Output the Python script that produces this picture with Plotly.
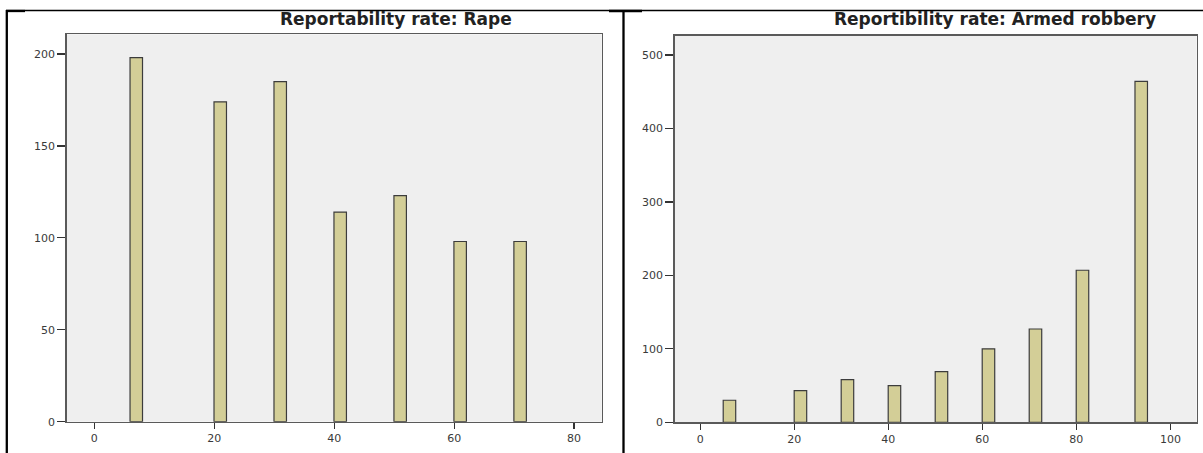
import plotly.graph_objects as go

W, H = 1203, 453

# ---- data ----
rape_rate = [7, 21, 31, 41, 51, 61, 71]
rape_count = [198, 174, 185, 114, 123, 98, 98]

robbery_rate = [6.2, 21.3, 31.3, 41.3, 51.3, 61.3, 71.3, 81.3, 93.8]
robbery_count = [30, 43, 58, 50, 69, 100, 127, 207, 464]

rape_xticks = [0, 20, 40, 60, 80]
rape_yticks = [0, 50, 100, 150, 200]
robbery_xticks = [0, 20, 40, 60, 80, 100]
robbery_yticks = [0, 100, 200, 300, 400, 500]

title_left = "Reportability rate: Rape"
title_right = "Reportibility rate: Armed robbery"

BAR_FILL = "#d3ce97"
BAR_LINE = "#3c3c3c"
PLOT_BG = "#efefef"
FRAME = "#5a5a5a"
TICK_FONT = "DejaVu Sans, Liberation Sans, sans-serif"
TITLE_FONT = "DejaVu Sans, Liberation Sans, sans-serif"


def px(x):
    return x / W


def py(y):
    return 1 - y / H


fig = go.Figure()
fig.add_trace(go.Bar(x=rape_rate, y=rape_count, width=2.08, xaxis="x", yaxis="y",
                     marker=dict(color=BAR_FILL, line=dict(color=BAR_LINE, width=1.2)),
                     showlegend=False, hoverinfo="skip"))
fig.add_trace(go.Bar(x=robbery_rate, y=robbery_count, width=2.66, xaxis="x2", yaxis="y2",
                     marker=dict(color=BAR_FILL, line=dict(color=BAR_LINE, width=1.2)),
                     showlegend=False, hoverinfo="skip"))

axis_common = dict(showgrid=False, zeroline=False, showline=True, mirror=True,
                   linecolor=FRAME, linewidth=1.5, ticks="outside", tickcolor="#333333",
                   tickwidth=1.3, tickfont=dict(family=TICK_FONT, size=11, color="#3a3a3a"),
                   fixedrange=True, automargin=False)

fig.update_layout(
    width=W, height=H, autosize=False,
    margin=dict(l=0, r=0, t=0, b=0, pad=0),
    paper_bgcolor="white", plot_bgcolor=PLOT_BG,
    bargap=0,
    xaxis=dict(domain=[px(66.7), px(601.7)], range=[-4.6, 84.6], tickvals=rape_xticks,
               ticklen=6, anchor="y", **axis_common),
    yaxis=dict(domain=[py(421.7), py(34.3)], range=[0, 210.7], tickvals=rape_yticks,
               ticklen=8, anchor="x", **axis_common),
    xaxis2=dict(domain=[px(674.7), px(1196.7)], range=[-5.45, 105.6], tickvals=robbery_xticks,
                ticklen=6, anchor="y2", **axis_common),
    yaxis2=dict(domain=[py(422.3), py(35.7)], range=[0, 526.3], tickvals=robbery_yticks,
                ticklen=8, anchor="x2", **axis_common),
)

fig.add_annotation(text="<b>" + title_left + "</b>", xref="paper", yref="paper",
                   x=px(395.5), y=py(19), xanchor="center", yanchor="middle", showarrow=False,
                   font=dict(family=TITLE_FONT, size=17, color="#222222"))
fig.add_annotation(text="<b>" + title_right + "</b>", xref="paper", yref="paper",
                   x=px(995), y=py(19), xanchor="center", yanchor="middle", showarrow=False,
                   font=dict(family=TITLE_FONT, size=17, color="#222222"))

# table-like frame lines
shapes = [
    dict(type="line", xref="paper", yref="paper", x0=px(6), x1=px(1203), y0=py(10.5), y1=py(10.5),
         line=dict(color="black", width=1.3)),
    dict(type="line", xref="paper", yref="paper", x0=px(6.8), x1=px(6.8), y0=py(10), y1=py(453),
         line=dict(color="black", width=2.3)),
    dict(type="line", xref="paper", yref="paper", x0=px(623.5), x1=px(623.5), y0=py(10), y1=py(453),
         line=dict(color="black", width=2.3)),
    dict(type="line", xref="paper", yref="paper", x0=px(6), x1=px(25), y0=py(11), y1=py(11),
         line=dict(color="black", width=2.3)),
    dict(type="line", xref="paper", yref="paper", x0=px(609), x1=px(642), y0=py(11), y1=py(11),
         line=dict(color="black", width=2.3)),
]
fig.update_layout(shapes=shapes)

fig.write_html(
    "out.html",
    config={"displayModeBar": False, "staticPlot": True},
    post_script="document.body.style.margin='0';document.body.style.overflow='hidden';",
)
